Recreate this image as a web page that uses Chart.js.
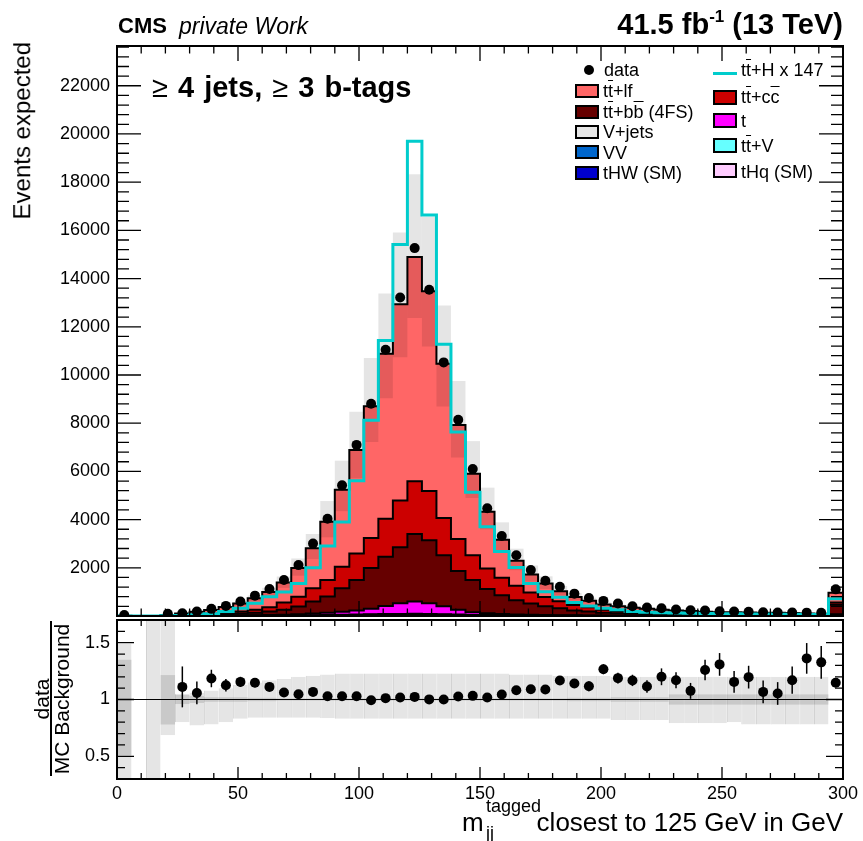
<!DOCTYPE html>
<html>
<head>
<meta charset="utf-8">
<title>m_jj tagged closest to 125 GeV</title>
<script src="https://cdn.jsdelivr.net/npm/chart.js@4.4.1/dist/chart.umd.min.js"></script>
<style>
  html, body { margin:0; padding:0; background:#fff; }
  body { width:863px; height:841px; position:relative; overflow:hidden;
         font-family:"Liberation Sans", Arial, Helvetica, sans-serif; color:#000; }
  canvas { position:absolute; left:0; }
  #mainChart { top:0; }
  #ratioChart { top:600px; }
  .t { position:absolute; white-space:nowrap; line-height:1; }
  .ol { text-decoration: overline; }
  .sup { position:relative; line-height:0; }
  .box { position:absolute; box-sizing:border-box; width:24px; border:2px solid #000; }
  .dot { position:absolute; width:10px; height:10px; border-radius:50%; background:#000; }
  .rot { position:absolute; left:0; top:0; transform-origin:0 0; white-space:nowrap; line-height:1; }
</style>
</head>
<body>
<canvas id="mainChart" width="863" height="621" style="width:863px;height:621px"></canvas>
<canvas id="ratioChart" width="863" height="241" style="width:863px;height:241px"></canvas>

<!-- header -->
<div class="t" style="left:118px; top:15.4px; font-size:22px; font-weight:bold;">CMS</div>
<div class="t" style="left:179px; top:14.5px; font-size:23px; font-style:italic;">private Work</div>
<div class="t" style="right:20px; top:9.5px; font-size:29px; font-weight:bold;">41.5 fb<span class="sup" style="font-size:17px; top:-12px;">-1</span> (13 TeV)</div>
<div class="t" style="left:152px; top:73px; font-size:29px; font-weight:bold; word-spacing:2px;"><span style="font-weight:normal">≥</span> 4 jets, <span style="font-weight:normal">≥</span> 3 b-tags</div>

<!-- legend left column -->
<div class="dot" style="left:584px; top:65px;"></div>
<div class="t" style="left:604px; top:61.3px; font-size:18px;">data</div>
<div class="box" style="left:575px; top:84px; height:14px; background:#ff6666;"></div>
<div class="t" style="left:603px; top:82.3px; font-size:18px;">t<span class="ol">t</span>+lf</div>
<div class="box" style="left:575px; top:105px; height:14px; background:#660000;"></div>
<div class="t" style="left:603px; top:103.3px; font-size:18px;">t<span class="ol">t</span>+b<span class="ol">b</span> (4FS)</div>
<div class="box" style="left:575px; top:125px; height:14px; background:#e6e6e6;"></div>
<div class="t" style="left:603px; top:123.3px; font-size:18px;">V+jets</div>
<div class="box" style="left:575px; top:145px; height:14px; background:#0066cc;"></div>
<div class="t" style="left:603px; top:143.5px; font-size:18px;">VV</div>
<div class="box" style="left:575px; top:166px; height:14px; background:#0000cc;"></div>
<div class="t" style="left:603px; top:164.3px; font-size:18px;">tHW (SM)</div>

<!-- legend right column -->
<div style="position:absolute; left:713px; top:71.5px; width:24px; height:3px; background:#00cccc;"></div>
<div class="t" style="left:741px; top:61.3px; font-size:18px;">t<span class="ol">t</span>+H x 147</div>
<div class="box" style="left:713px; top:90px; height:15px; background:#cc0000;"></div>
<div class="t" style="left:741px; top:88.3px; font-size:18px;">t<span class="ol">t</span>+c<span class="ol">c</span></div>
<div class="box" style="left:713px; top:113px; height:15px; background:#ff00ff;"></div>
<div class="t" style="left:741px; top:112.3px; font-size:18px;">t</div>
<div class="box" style="left:713px; top:138px; height:15px; background:#66ffff;"></div>
<div class="t" style="left:741px; top:137.3px; font-size:18px;">t<span class="ol">t</span>+V</div>
<div class="box" style="left:713px; top:163px; height:15px; background:#ffccff;"></div>
<div class="t" style="left:741px; top:163.3px; font-size:18px;">tHq (SM)</div>

<!-- axis titles -->
<div class="rot" style="width:200px; text-align:right; font-size:24px; transform:translate(10.2px,242px) rotate(-90deg);">Events expected</div>
<div class="rot" style="width:200px; text-align:center; font-size:21px; transform:translate(31.2px,799px) rotate(-90deg);">data</div>
<div style="position:absolute; left:49.5px; top:621px; width:2px; height:155px; background:#000;"></div>
<div class="rot" style="width:200px; text-align:center; font-size:21px; transform:translate(50.7px,799px) rotate(-90deg);">MC Background</div>

<div class="t" style="left:462px; top:809px; font-size:26px;">m</div>
<div class="t" style="left:486px; top:796.8px; font-size:18px;">tagged</div>
<div class="t" style="left:486px; top:823.8px; font-size:18px;">jj</div>
<div class="t" style="right:20px; top:809px; font-size:26px;">closest to 125 GeV in GeV</div>

<script>
// ---------------- data ----------------
const binEdges = [0,6,12,18,24,30,36,42,48,54,60,66,72,78,84,90,96,102,108,114,120,126,132,138,144,150,156,162,168,174,180,186,192,198,204,210,216,222,228,234,240,246,252,258,264,270,276,282,288,294,300];

const dataCounts = [40,null,null,90,115,185,296,420,598,845, 1120,1492,2111,3003,4033,5420,7100,8804,11045,13216, 15265,13533,10523,8144,6096,4474,3320,2523,1904,1464, 1216,928,750,627,515,404,350,322,268,239, 227,198,186,173,157,144,144,140,130,1106];

const ttlf = [10,0,3,25,64,110,155,233,328,477, 640,830,1190,1660,2419,3199,4300,5460,6847,8150, 9312,8280,6400,4735,3377,2359,1570,1040,740,560, 420,330,267,220,200,175,160,142,128,120, 100,85,89,83,82,78,70,58,56,400];
const ttcc = [2,0,1,7,20,30,45,65,90,125, 175,305,408,552,687,893,1099,1250,1579,1940, 2188,2049,1550,1320,1032,851,730,600,460,390, 290,230,178,120,90,75,62,54,44,40, 35,30,30,27,28,26,24,22,21,90];
const ttbb = [2,0,1,6,16,28,40,60,80,107, 145,200,317,498,674,973,1261,1690,2034,2320, 2800,2611,2120,1610,1331,1010,775,585,468,358, 285,202,162,121,94,76,66,56,47,42, 38,34,30,28,25,23,22,19,17,400];
const singleTop = [0,0,0,1,2,3,5,8,11,16, 25,36,49,68,89,126,172,232,342,443, 508,445,328,202,114,73,56,43,35,28, 23,19,15,13,10,9,7,6,6,5, 4,3,3,2,3,3,2,2,2,48];
const vJets = [1,0,0,0,1,2,2,3,3,4, 5,6,8,10,12,14,16,19,22,24, 25,23,20,16,13,10,8,6,5,4, 4,3,3,2,2,2,2,1,1,1, 1,1,1,1,1,1,1,1,1,8];
const ttV = [0,0,0,1,1,2,3,4,5,7, 9,12,16,20,25,31,37,44,50,55, 58,54,46,37,29,23,18,14,11,9, 7,6,5,4,4,3,3,3,2,2, 2,2,2,2,1,1,1,1,1,12];
const diboson = [0,0,0,0,0,0,0,0,0,0, 0,0,1,1,1,1,1,1,1,2, 2,2,1,1,1,1,1,0,0,0, 0,0,0,0,0,0,0,0,0,0, 0,0,0,0,0,0,0,0,0,0];
const tHq = [0,0,0,0,0,0,0,0,1,1, 1,1,1,1,2,2,3,3,4,4, 5,4,4,3,2,2,1,1,1,1, 1,0,0,0,0,0,0,0,0,0, 0,0,0,0,0,0,0,0,0,1];
const tHW = [0,0,0,0,0,0,0,0,0,0, 0,0,0,1,1,1,1,1,1,2, 2,2,1,1,1,1,1,1,0,0, 0,0,0,0,0,0,0,0,0,0, 0,0,0,0,0,0,0,0,0,1];

const ttHx147 = [5,0,3,10,20,50,90,186,322,528, 800,1000,1350,2000,2900,3900,5615,8117,11430,15415, 19703,16639,11278,7637,5134,3705,2680,2010,1350,1010, 777,557,420,322,255,186,160,140,125,115, 105,95,90,85,80,75,70,65,60,720];

const ratioVals = [null,null,null,null,1.111,1.058,1.185,1.126,1.155,1.147, 1.111,1.062,1.047,1.067,1.029,1.029,1.029,0.994,1.012,1.018, 1.023,1.001,1.0,1.026,1.032,1.018,1.044,1.082,1.091,1.088, 1.168,1.141,1.117,1.267,1.188,1.168,1.115,1.2,1.17,1.076, 1.259,1.309,1.155,1.197,1.067,1.053,1.17,1.362,1.327,1.147];
const ratioErr = [null,null,null,null,0.18,0.10,0.077,0.055,0.045,0.04, 0.035,0.03,0.025,0.02,0.017,0.015,0.013,0.012,0.011,0.01, 0.01,0.01,0.011,0.012,0.014,0.016,0.019,0.022,0.025,0.03, 0.034,0.04,0.044,0.044,0.047,0.05,0.055,0.074,0.07,0.07, 0.09,0.1,0.095,0.1,0.1,0.1,0.12,0.135,0.144,0.035];

// total uncertainty band (relative to MC) and MC-stat band
const bandUp = [1.49,null,2.0,2.0,1.05,1.06,1.08,1.1,1.13,1.15, 1.17,1.18,1.2,1.21,1.22,1.23,1.23,1.23,1.23,1.23, 1.23,1.23,1.23,1.23,1.23,1.23,1.23,1.22,1.22,1.22, 1.21,1.21,1.21,1.21,1.2,1.2,1.2,1.2,1.2,1.2, 1.2,1.2,1.2,1.2,1.2,1.2,1.2,1.2,1.2,null];
const bandDn = [0.2,null,0.0,0.685,0.8,0.77,0.78,0.8,0.83,0.84, 0.84,0.84,0.84,0.84,0.835,0.83,0.83,0.83,0.83,0.83, 0.83,0.83,0.83,0.83,0.83,0.83,0.83,0.83,0.83,0.83, 0.83,0.83,0.83,0.83,0.82,0.82,0.82,0.82,0.79,0.79, 0.79,0.79,0.8,0.78,0.78,0.78,0.78,0.78,0.78,null];
const statUp = [1.35,null,null,1.215,1.04,1.03,1.02,1.02,1.02,1.015, 1.015,1.01,1.01,1.01,1.01,1.01,1.01,1.01,1.01,1.01, 1.01,1.01,1.01,1.01,1.01,1.01,1.01,1.01,1.01,1.01, 1.01,1.015,1.015,1.015,1.02,1.02,1.02,1.02,1.045,1.045, 1.045,1.045,1.045,1.045,1.045,1.045,1.045,1.045,1.045,null];
const statDn = [0.51,null,null,0.78,0.96,0.97,0.98,0.98,0.98,0.985, 0.985,0.99,0.99,0.99,0.99,0.99,0.99,0.99,0.99,0.99, 0.99,0.99,0.99,0.99,0.99,0.99,0.99,0.99,0.99,0.99, 0.99,0.985,0.985,0.985,0.98,0.98,0.98,0.98,0.955,0.955, 0.955,0.955,0.955,0.955,0.955,0.955,0.955,0.955,0.955,null];

const xMajorTicks = [0,50,100,150,200,250,300];
const yMainMajorTicks = [0,2000,4000,6000,8000,10000,12000,14000,16000,18000,20000,22000];
const yRatioMajorTicks = [0.5,1,1.5];

// ---------------- helpers ----------------
Chart.defaults.font.family = "'Liberation Sans', Arial, Helvetica, sans-serif";
Chart.defaults.font.size = 18;
Chart.defaults.color = '#000';

const nBins = binEdges.length - 1;
const centers = binEdges.slice(0, -1).map((e, i) => (e + binEdges[i + 1]) / 2);
function stepPoints(vals) {
  const pts = vals.map((v, i) => ({x: binEdges[i], y: v}));
  pts.push({x: binEdges[nBins], y: vals[nBins - 1]});
  return pts;
}
const components = [
  {label:'tHW (SM)', vals:tHW, color:'#0000cc'},
  {label:'tHq (SM)', vals:tHq, color:'#ffccff'},
  {label:'VV', vals:diboson, color:'#0066cc'},
  {label:'tt+V', vals:ttV, color:'#66ffff'},
  {label:'V+jets', vals:vJets, color:'#e6e6e6'},
  {label:'t', vals:singleTop, color:'#ff00ff'},
  {label:'tt+bb', vals:ttbb, color:'#660000'},
  {label:'tt+cc', vals:ttcc, color:'#cc0000'},
  {label:'tt+lf', vals:ttlf, color:'#ff6666'}
];
const mcTotal = centers.map((c, i) => components.reduce((s, comp) => s + comp.vals[i], 0));

function minorList(lo, hi, step) { const r = []; for (let v = lo; v <= hi + 1e-9; v += step) r.push(+v.toFixed(6)); return r; }
const fixTicks = list => s => { s.ticks = list.map(v => ({value: v})); };

const rootAxes = {
  id: 'rootAxes',
  afterDatasetsDraw(chart, args, o) {
    const {ctx, chartArea: a} = chart;
    const xs = chart.scales.x, ys = chart.scales.y;
    ctx.save();
    ctx.strokeStyle = '#000';
    ctx.lineWidth = 1.3;
    ctx.beginPath();
    const vt = (vals, len) => vals.forEach(v => {
      const p = xs.getPixelForValue(v);
      ctx.moveTo(p, a.bottom); ctx.lineTo(p, a.bottom - len);
      ctx.moveTo(p, a.top); ctx.lineTo(p, a.top + len);
    });
    const ht = (vals, len) => vals.forEach(v => {
      const p = ys.getPixelForValue(v);
      ctx.moveTo(a.left, p); ctx.lineTo(a.left + len, p);
      ctx.moveTo(a.right, p); ctx.lineTo(a.right - len, p);
    });
    vt(o.xMinor, o.xMinLen); vt(o.xMajor, o.xMajLen);
    ht(o.yMinor, o.yMinLen); ht(o.yMajor, o.yMajLen);
    ctx.stroke();
    ctx.lineWidth = 2;
    ctx.strokeRect(a.left, a.top, a.right - a.left, a.bottom - a.top);
    ctx.restore();
  }
};

// ---------------- main chart ----------------
const mainDatasets = [
  { type:'line', label:'data', data: centers.map((c, i) => ({x:c, y:dataCounts[i]})),
    showLine:false, pointRadius:5, pointHoverRadius:5, pointBackgroundColor:'#000', pointBorderWidth:0,
    stack:'data', order:0, clip:0 },
  { type:'line', label:'ttH x 147', data: stepPoints(ttHx147), stepped:'before', fill:false,
    borderColor:'#00cccc', borderWidth:3, pointRadius:0, stack:'sig', order:1 },
  { type:'bar', label:'unc', data: centers.map((c, i) => ({x:c, y: bandUp[i] == null ? null : [mcTotal[i] * bandDn[i], mcTotal[i] * bandUp[i]]})),
    backgroundColor:'rgba(0,0,0,0.10)', borderWidth:0, barPercentage:1, categoryPercentage:1,
    grouped:false, stack:'band', order:2, clip:0, inflateAmount:0 }
];
components.forEach((comp, k) => {
  mainDatasets.push({
    type:'line', label: comp.label, data: stepPoints(comp.vals), stepped:'before',
    fill: k === 0 ? 'origin' : '-1', backgroundColor: comp.color, borderColor:'#000', borderWidth:2,
    pointRadius:0, tension:0, stack:'bkg', order:3
  });
});

new Chart(document.getElementById('mainChart'), {
  type: 'line',
  data: { datasets: mainDatasets },
  options: {
    responsive:false, animation:false, devicePixelRatio:1,
    layout: { padding: { top:46, right:20, left:0, bottom:1 } },
    plugins: {
      legend: { display:false }, tooltip: { enabled:false },
      rootAxes: { xMajor: xMajorTicks, xMinor: minorList(0, 300, 10), xMajLen:15, xMinLen:7.5,
                  yMajor: yMainMajorTicks, yMinor: minorList(0, 23600, 400), yMajLen:24, yMinLen:12 }
    },
    scales: {
      x: { type:'linear', min:0, max:300, display:false, offset:false },
      y: { type:'linear', min:0, max:23650, stacked:true,
           grid:{ display:false, drawTicks:false }, border:{ display:false },
           afterBuildTicks: fixTicks(yMainMajorTicks),
           ticks:{ padding:7, font:{size:18},
                   callback: v => (v === 0 ? '' : String(v)) },
           afterFit: s => { s.width = 117; s.paddingTop = 0; s.paddingBottom = 0; } }
    }
  },
  plugins: [rootAxes]
});

// ---------------- ratio chart ----------------
new Chart(document.getElementById('ratioChart'), {
  type: 'line',
  data: { datasets: [
    { type:'line', label:'ratio', data: centers.map((c, i) => ({x:c, y:ratioVals[i]})),
      showLine:false, pointRadius:5, pointHoverRadius:5, pointBackgroundColor:'#000', pointBorderWidth:0, order:0, clip:0 },
    { type:'bar', label:'err', data: centers.map((c, i) => ({x:c, y: ratioVals[i] == null ? null : [ratioVals[i] - ratioErr[i], ratioVals[i] + ratioErr[i]]})),
      backgroundColor:'#000', borderWidth:0, barThickness:1.5, grouped:false, order:1, clip:0, inflateAmount:0 },
    { type:'line', label:'unity', data:[{x:0, y:1}, {x:300, y:1}], borderColor:'#000', borderWidth:1.2,
      pointRadius:0, fill:false, order:2 },
    { type:'bar', label:'mc stat', data: centers.map((c, i) => ({x:c, y: statUp[i] == null ? null : [statDn[i], statUp[i]]})),
      backgroundColor:'rgba(0,0,0,0.12)', borderWidth:0, barPercentage:1, categoryPercentage:1,
      grouped:false, order:3, clip:0, inflateAmount:0 },
    { type:'bar', label:'total unc', data: centers.map((c, i) => ({x:c, y: bandUp[i] == null ? null : [bandDn[i], bandUp[i]]})),
      backgroundColor:'#e5e5e5', borderColor:'#cfcfcf', borderWidth:{left:1, right:0, top:0, bottom:0},
      barPercentage:1, categoryPercentage:1, grouped:false, order:4, clip:0, inflateAmount:0 }
  ]},
  options: {
    responsive:false, animation:false, devicePixelRatio:1,
    layout: { padding: { top:20, right:20, left:0, bottom:0 } },
    plugins: {
      legend: { display:false }, tooltip: { enabled:false },
      rootAxes: { xMajor: xMajorTicks, xMinor: minorList(0, 300, 10), xMajLen:12, xMinLen:6,
                  yMajor: yRatioMajorTicks, yMinor: minorList(0.3, 1.7, 0.1), yMajLen:17, yMinLen:8 }
    },
    scales: {
      x: { type:'linear', min:0, max:300, offset:false,
           grid:{ display:false, drawTicks:false }, border:{ display:false },
           afterBuildTicks: fixTicks(xMajorTicks),
           ticks:{ padding:4, maxRotation:0, autoSkip:false, font:{size:18},
                   callback: v => String(v) },
           afterFit: s => { s.height = 62; s.paddingLeft = 0; s.paddingRight = 0; } },
      y: { type:'linear', min:0.3, max:1.7,
           grid:{ display:false, drawTicks:false }, border:{ display:false },
           afterBuildTicks: fixTicks(yRatioMajorTicks),
           ticks:{ padding:7, font:{size:18},
                   callback: v => String(v) },
           afterFit: s => { s.width = 117; s.paddingTop = 0; s.paddingBottom = 0; } }
    }
  },
  plugins: [rootAxes]
});
</script>
</body>
</html>
